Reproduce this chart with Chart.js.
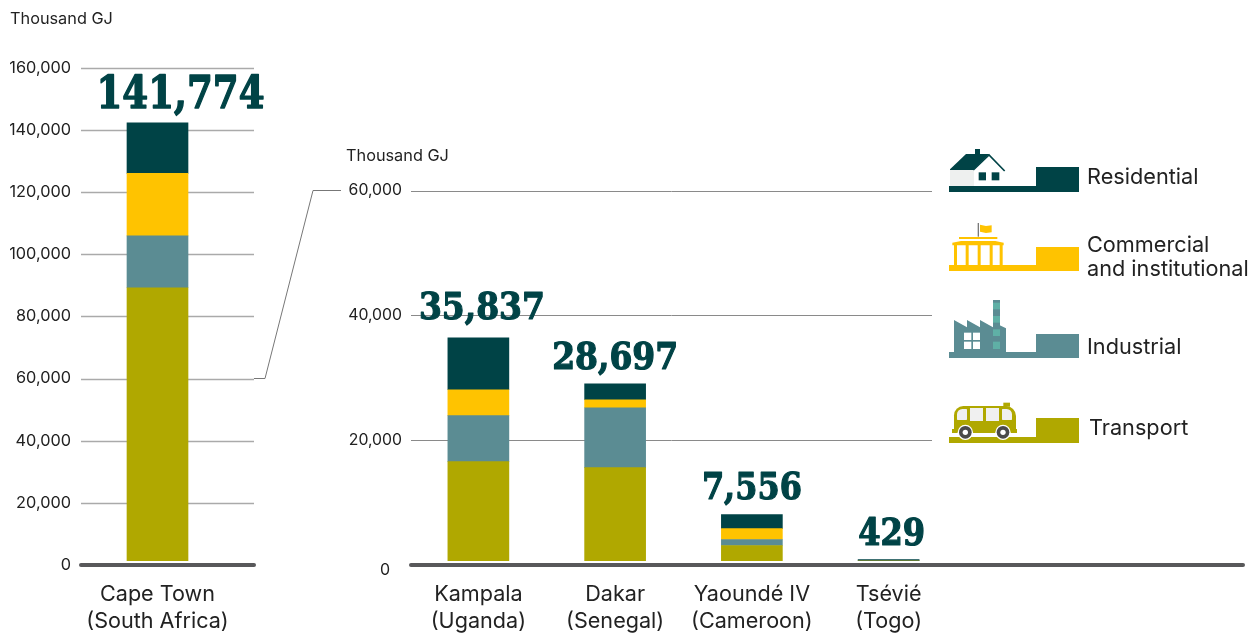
<!DOCTYPE html>
<html>
<head>
<meta charset="utf-8">
<title>Energy consumption by sector</title>
<script src="https://cdn.jsdelivr.net/npm/chart.js@4"></script>
<style>
  html, body { margin: 0; background: #fff; }
  canvas { position: absolute; left: 0; top: 0; }
</style>
</head>
<body>
<canvas id="capeTown" width="1260" height="637"></canvas>
<canvas id="others" width="1260" height="637"></canvas>
<script>
const cities = [
  ['Cape Town', '(South Africa)'],
  ['Kampala', '(Uganda)'],
  ['Dakar', '(Senegal)'],
  ['Yaoundé IV', '(Cameroon)'],
  ['Tsévié', '(Togo)'],
];
const totals = ['141,774', '35,837', '28,697', '7,556', '429'];
const transport = [89200, 16560, 15600, 3120, 640];
const industrial = [16700, 7360, 9600, 960, 0];
const commercial = [20100, 4160, 1280, 1760, 0];
const residential = [16300, 8320, 2560, 2240, 240];
const leftTicks = [0, 20000, 40000, 60000, 80000, 100000, 120000, 140000, 160000];
const rightTicks = [0, 20000, 40000, 60000];

const RESIDENTIAL = '#004346';
const COMMERCIAL = '#ffc300';
const INDUSTRIAL = '#5b8c93';
const TRANSPORT = '#b0a800';
const AXIS = '#58585a';
const TEXT = '#222222';
const FONT = 'Inter, sans-serif';

function datasets(from, to) {
  return [
    ['Transport', transport, TRANSPORT],
    ['Industrial', industrial, INDUSTRIAL],
    ['Commercial and institutional', commercial, COMMERCIAL],
    ['Residential', residential, RESIDENTIAL],
  ].map(([label, values, color]) => ({
    label,
    data: values.slice(from, to),
    backgroundColor: color,
    barThickness: 61,
  }));
}

// grid lines stop at their own x limits, bars sit a little above the thick base line
const framePlugin = {
  id: 'frame',
  beforeDatasetsDraw(chart, _args, opts) {
    const { ctx, scales: { y } } = chart;
    ctx.save();
    ctx.strokeStyle = opts.gridColor;
    ctx.lineWidth = opts.gridWidth;
    opts.ticks.filter(v => v > 0).forEach(v => {
      const py = Math.round(y.getPixelForValue(v)) + 0.5;
      ctx.beginPath();
      ctx.moveTo(opts.gridFrom, py);
      ctx.lineTo(opts.gridTo, py);
      ctx.stroke();
    });
    ctx.restore();
  },
  afterDatasetsDraw(chart, _args, opts) {
    const { ctx, scales: { y } } = chart;
    const base = y.getPixelForValue(0);
    ctx.save();
    ctx.fillStyle = '#fff';
    ctx.fillRect(opts.axisFrom, base - 4, opts.axisTo - opts.axisFrom, 4);
    ctx.strokeStyle = AXIS;
    ctx.lineWidth = 4;
    ctx.lineCap = 'round';
    ctx.beginPath();
    ctx.moveTo(opts.axisFrom + 2, base);
    ctx.lineTo(opts.axisTo - 2, base);
    ctx.stroke();
    ctx.restore();
  },
};

const totalsPlugin = {
  id: 'totals',
  afterDatasetsDraw(chart, _args, opts) {
    const { ctx, scales: { x, y } } = chart;
    ctx.save();
    ctx.fillStyle = RESIDENTIAL;
    ctx.strokeStyle = RESIDENTIAL;
    ctx.lineWidth = opts.size / 30;
    ctx.lineJoin = 'round';
    ctx.textAlign = 'center';
    ctx.textBaseline = 'alphabetic';
    ctx.font = `bold ${opts.size}px "DejaVu Serif", serif`;
    opts.labels.forEach((text, i) => {
      const sum = chart.data.datasets.reduce((acc, d) => acc + d.data[i], 0);
      const px = x.getPixelForValue(i) + opts.dx[i];
      const py = y.getPixelForValue(sum) - opts.lift[i];
      ctx.fillText(text, px, py, opts.widths[i]);
      ctx.strokeText(text, px, py, opts.widths[i]);
    });
    ctx.restore();
  },
};

const notesPlugin = {
  id: 'notes',
  afterDraw(chart, _args, opts) {
    const { ctx } = chart;
    ctx.save();
    ctx.fillStyle = TEXT;
    ctx.font = `16.3px ${FONT}`;
    ctx.fillText('Thousand GJ', opts.unitX, opts.unitY);
    ctx.restore();
  },
};

const ICONS = [
  { x: 930, y: 130, draw: drawHouse },
  { x: 930, y: 130, draw: drawBuilding },
  { x: 930, y: 290, draw: drawFactory },
  { x: 930, y: 290, draw: drawBus },
];

function box(ctx, color, x0, y0, x1, y1) {
  ctx.fillStyle = color;
  ctx.fillRect(x0, y0, x1 - x0, y1 - y0);
}

function poly(ctx, color, pts) {
  ctx.fillStyle = color;
  ctx.beginPath();
  pts.forEach(([px, py], i) => (i ? ctx.lineTo(px, py) : ctx.moveTo(px, py)));
  ctx.closePath();
  ctx.fill();
}

function drawHouse(ctx) {
  box(ctx, RESIDENTIAL, 57, 168, 318, 186);
  box(ctx, RESIDENTIAL, 318, 111, 447, 186);
  box(ctx, '#eef0ef', 60, 118, 132, 168);
  box(ctx, RESIDENTIAL, 135, 57, 150, 74);
  poly(ctx, RESIDENTIAL, [[60, 118], [108, 72], [178, 72], [130, 120], [60, 120]]);
  ctx.strokeStyle = RESIDENTIAL;
  ctx.lineWidth = 5;
  ctx.beginPath();
  ctx.moveTo(130, 120);
  ctx.lineTo(177, 75);
  ctx.lineTo(224, 123);
  ctx.stroke();
  box(ctx, RESIDENTIAL, 146, 127, 168, 151);
  box(ctx, RESIDENTIAL, 185, 127, 208, 151);
}

function drawBuilding(ctx) {
  box(ctx, COMMERCIAL, 57, 405, 318, 423);
  box(ctx, COMMERCIAL, 318, 351, 447, 423);
  box(ctx, '#7a7a7a', 143, 279, 147, 320);
  poly(ctx, COMMERCIAL, [[150, 284], [168, 288], [185, 286], [185, 307], [168, 309], [150, 305]]);
  box(ctx, COMMERCIAL, 87, 321, 202, 327);
  poly(ctx, COMMERCIAL, [[93, 333], [196, 333], [221, 338], [221, 346], [67, 346], [67, 338]]);
  [[72, 81], [107, 116], [143, 152], [179, 188], [209, 218]].forEach(([a, b]) => box(ctx, COMMERCIAL, a, 345, b, 405));
}

function drawFactory(ctx) {
  box(ctx, INDUSTRIAL, 57, 186, 318, 204);
  box(ctx, INDUSTRIAL, 318, 132, 447, 204);
  box(ctx, INDUSTRIAL, 189, 30, 210, 110);
  poly(ctx, INDUSTRIAL, [[72, 186], [72, 90], [111, 112], [111, 90], [150, 112], [150, 90], [189, 112], [189, 96], [228, 115], [228, 186]]);
  [[38, 58], [78, 98], [118, 138], [155, 177]].forEach(([a, b]) => box(ctx, '#5fb0a6', 189, a, 210, b));
  box(ctx, '#fff', 102, 128, 124, 150);
  box(ctx, '#fff', 129, 128, 150, 150);
  box(ctx, '#fff', 102, 155, 124, 177);
  box(ctx, '#fff', 129, 155, 150, 177);
}

function drawBus(ctx) {
  box(ctx, TRANSPORT, 57, 441, 318, 459);
  box(ctx, TRANSPORT, 318, 384, 447, 459);
  box(ctx, TRANSPORT, 220, 338, 240, 350);
  ctx.fillStyle = TRANSPORT;
  ctx.beginPath();
  ctx.roundRect(72, 348, 186, 76, [28, 30, 4, 4]);
  ctx.fill();
  box(ctx, TRANSPORT, 66, 417, 261, 429);
  ctx.fillStyle = '#f0f0f0';
  ctx.beginPath();
  ctx.roundRect(81, 357, 30, 33, [16, 2, 2, 2]);
  ctx.roundRect(216, 357, 30, 33, [2, 16, 2, 2]);
  ctx.fill();
  box(ctx, '#f0f0f0', 120, 354, 159, 393);
  box(ctx, '#f0f0f0', 168, 354, 207, 393);
  [106, 219].forEach(cx => {
    [[23, '#fff'], [19, '#4a4a4a'], [8, '#fff']].forEach(([r, color]) => {
      ctx.fillStyle = color;
      ctx.beginPath();
      ctx.arc(cx, 427, r, 0, Math.PI * 2);
      ctx.fill();
    });
  });
}

const legendPlugin = {
  id: 'sectorLegend',
  afterDraw(chart) {
    const { ctx, scales: { y } } = chart;
    ctx.save();
    ICONS.forEach(icon => {
      ctx.save();
      ctx.translate(icon.x, icon.y);
      ctx.scale(1 / 3, 1 / 3);
      icon.draw(ctx);
      ctx.restore();
    });
    ctx.fillStyle = TEXT;
    ctx.font = `21.7px ${FONT}`;
    ctx.fillText('Residential', 1087, 184);
    ctx.fillText('Commercial', 1087, 252);
    ctx.fillText('and institutional', 1087, 276);
    ctx.fillText('Industrial', 1087, 354);
    ctx.fillText('Transport', 1089, 435);

    // zero label of the inset scale sits below its tick
    ctx.font = `16px ${FONT}`;
    ctx.textAlign = 'right';
    ctx.textBaseline = 'middle';
    ctx.fillText('0', 390, y.getPixelForValue(0) + 5.5);

    // connector from 60,000 on the Cape Town scale to the inset scale
    const from = chart.options.plugins.sectorLegend.linkY;
    const to = y.getPixelForValue(60000);
    ctx.strokeStyle = '#777';
    ctx.lineWidth = 1;
    ctx.beginPath();
    ctx.moveTo(254, from);
    ctx.lineTo(265, from);
    ctx.lineTo(313, to);
    ctx.lineTo(341, to);
    ctx.stroke();
    ctx.restore();
  },
};

function baseOptions(ticks, max, padding, tickFont, showZero) {
  return {
    responsive: false,
    animation: false,
    layout: { padding },
    plugins: { legend: { display: false }, tooltip: { enabled: false } },
    scales: {
      x: {
        stacked: true,
        afterFit: s => { s.height = 72; },
        grid: { display: false },
        border: { display: false },
        ticks: {
          color: TEXT,
          padding: 8,
          maxRotation: 0,
          autoSkip: false,
          font: { family: 'Inter', size: 21.6, lineHeight: 1.25 },
        },
      },
      y: {
        stacked: true,
        min: 0,
        max,
        afterBuildTicks: s => { s.ticks = ticks.map(value => ({ value })); },
        grid: { display: false },
        border: { display: false },
        ticks: {
          color: TEXT,
          font: { family: 'Inter', size: tickFont },
          padding: 2,
          callback: v => (v === 0 && !showZero ? '' : v.toLocaleString('en-US')),
        },
      },
    },
  };
}

const leftOptions = baseOptions(leftTicks, 160000, { top: 67.7, right: 1260 - 234, left: 0, bottom: 0 }, 16.3, true);
leftOptions.scales.y.afterFit = s => { s.width = 71; };
leftOptions.layout.padding.left = 10;
Object.assign(leftOptions.plugins, {
  frame: { ticks: leftTicks, gridColor: '#aaaaaa', gridWidth: 1.5, gridFrom: 81, gridTo: 254, axisFrom: 79, axisTo: 256 },
  totals: { labels: totals.slice(0, 1), size: 44, dx: [23], lift: [15], widths: [168] },
  notes: { unitX: 10, unitY: 24 },
});

const leftChart = new Chart(document.getElementById('capeTown'), {
  type: 'bar',
  plugins: [framePlugin, totalsPlugin, notesPlugin],
  data: { labels: cities.slice(0, 1), datasets: datasets(0, 1) },
  options: leftOptions,
});

const rightOptions = baseOptions(rightTicks, 60000, { top: 190.5, right: 1260 - 957, left: 0, bottom: 0 }, 15.8, false);
rightOptions.scales.y.afterFit = s => { s.width = 70; };
rightOptions.scales.y.ticks.padding = 0;
rightOptions.layout.padding.left = 340;
Object.assign(rightOptions.plugins, {
  frame: { ticks: rightTicks, gridColor: '#8a8a8a', gridWidth: 1, gridFrom: 411, gridTo: 932, axisFrom: 409, axisTo: 1245 },
  totals: { labels: totals.slice(1), size: 37, dx: [3.5, 0, 0, 3], lift: [19, 15, 16, 15], widths: [126, 126, 100, 67] },
  notes: { unitX: 346, unitY: 161 },
  sectorLegend: { linkY: leftChart.scales.y.getPixelForValue(60000) },
});

new Chart(document.getElementById('others'), {
  type: 'bar',
  plugins: [framePlugin, totalsPlugin, notesPlugin, legendPlugin],
  data: { labels: cities.slice(1), datasets: datasets(1, 5) },
  options: rightOptions,
});
</script>
</body>
</html>
